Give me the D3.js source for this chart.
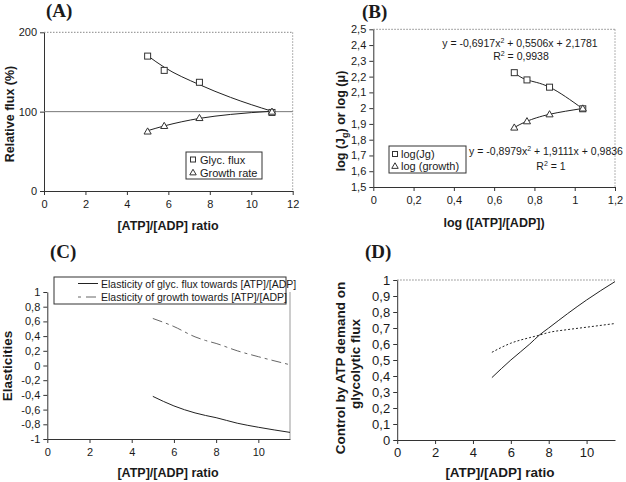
<!DOCTYPE html>
<meta charset="utf-8">
<head>
    <title>ATP/ADP flux panels</title>
    <style>
        body { margin: 0; background: #fff; }
        text { font-family: "Liberation Sans", Arial, sans-serif; fill: #1a1a1a; }
        .ptitle { font-family: "Liberation Serif", "Times New Roman", serif; font-weight: bold; font-size: 19px; }
        .atitle { font-weight: bold; font-size: 12.5px; }
        .domain, .tick line { stroke: #333; }
    </style>
</head>

<body>
    <script src="https://cdn.jsdelivr.net/npm/d3@7"></script>
    <script>
        // ---- data ----
        // (A) relative flux vs ratio
        var ratioPts = [5, 5.8, 7.5, 11];
        var glycFlux = [170, 152, 137, 99];
        var growthRate = [75, 82, 92, 100];
        // trendlines in (A)
        var trendX = [5, 5.8, 7.5, 9, 11];
        var glycTrend = [170.5, 156, 134, 118, 100.5];
        var growthTrend = [76, 82, 91.5, 96.5, 100.5];

        // (B) log-log
        var logRatio = [0.70, 0.763, 0.875, 1.04];
        var logJg = [2.225, 2.179, 2.133, 1.996];
        var logGrowth = [1.877, 1.917, 1.961, 1.998];

        // (C) elasticities, (D) control coefficients
        var curveX = [5, 6, 7, 7.5, 8, 9, 10, 11.5];
        var elastGlyc = [-0.42, -0.55, -0.645, -0.68, -0.71, -0.785, -0.84, -0.91];
        var elastGrowth = [0.64, 0.53, 0.39, 0.34, 0.30, 0.20, 0.12, 0.01];
        var ctrlSolid = [0.39, 0.50, 0.60, 0.655, 0.70, 0.79, 0.875, 0.99];
        var ctrlDotted = [0.548, 0.605, 0.64, 0.655, 0.672, 0.69, 0.705, 0.728];

        var svg = d3.select("body").append("svg")
            .attr("width", 626).attr("height", 482);

        function fmt(v) {
            return String(+v.toFixed(2)).replace(".", ",");
        }

        // builds axes + frame for one panel and returns the scales
        function panel(o) {
            var x = d3.scaleLinear().domain(o.xd).range([o.x0, o.x1]);
            var y = d3.scaleLinear().domain(o.yd).range([o.y0, o.y1]);
            var g = svg.append("g");

            // frame (light dotted top / right)
            if (o.top) {
                g.append("line").attr("x1", o.x0).attr("x2", o.x1).attr("y1", o.y1).attr("y2", o.y1)
                    .attr("stroke", "#888").attr("stroke-dasharray", "1.5,1.5");
            }
            if (o.right) {
                g.append("line").attr("x1", o.x1).attr("x2", o.x1).attr("y1", o.y1).attr("y2", o.y0)
                    .attr("stroke", "#999").attr("stroke-dasharray", o.rightDash || null);
            }

            g.append("g").attr("transform", "translate(0," + o.y0 + ")")
                .call(d3.axisBottom(x).tickValues(o.xt).tickFormat(fmt).tickSize(4).tickSizeOuter(0))
                .call(function (a) {
                    a.selectAll("text").attr("dy", null).attr("y", 17)
                        .style("font-size", o.fs + "px").style("font-family", "Liberation Sans, Arial");
                });
            g.append("g").attr("transform", "translate(" + o.x0 + ",0)")
                .call(d3.axisLeft(y).tickValues(o.yt).tickFormat(fmt).tickSize(4).tickSizeOuter(0))
                .call(function (a) {
                    a.selectAll("text").attr("x", -7)
                        .style("font-size", o.fs + "px").style("font-family", "Liberation Sans, Arial");
                });
            return { x: x, y: y, g: g };
        }

        function curve(p, xs, ys, dash, color, kind) {
            var line = d3.line()
                .x(function (d, i) { return p.x(xs[i]); })
                .y(function (d) { return p.y(d); })
                .curve(kind || d3.curveMonotoneX);
            p.g.append("path").datum(ys)
                .attr("d", line).attr("fill", "none")
                .attr("stroke", color || "#222").attr("stroke-width", 1)
                .attr("stroke-dasharray", dash || null);
        }

        function squares(p, xs, ys) {
            p.g.selectAll(null).data(ys).enter().append("rect")
                .attr("x", function (d, i) { return p.x(xs[i]) - 3; })
                .attr("y", function (d) { return p.y(d) - 3; })
                .attr("width", 6).attr("height", 6)
                .attr("fill", "#fff").attr("stroke", "#333");
        }

        var tri = d3.symbol().type(d3.symbolTriangle).size(22);
        function triangles(p, xs, ys) {
            p.g.selectAll(null).data(ys).enter().append("path")
                .attr("d", tri)
                .attr("transform", function (d, i) { return "translate(" + p.x(xs[i]) + "," + (p.y(d) + 0.5) + ")"; })
                .attr("fill", "#fff").attr("stroke", "#333");
        }

        function titleText(x, y, t, cls, rot) {
            var tx = svg.append("text").attr("class", cls).attr("text-anchor", "middle")
                .attr("transform", "translate(" + x + "," + y + ")" + (rot ? " rotate(-90)" : ""));
            tx.text(t);
            return tx;
        }

        // ---------- (A) ----------
        var pA = panel({ xd: [0, 12], yd: [0, 200], x0: 44, x1: 292.7, y0: 191, y1: 32.3,
            xt: d3.range(0, 13, 2), yt: [0, 100, 200], fs: 11, top: true, right: true, rightDash: "1.5,1.5" });
        pA.g.append("line").attr("x1", pA.x(0)).attr("x2", pA.x(12)).attr("y1", pA.y(100)).attr("y2", pA.y(100))
            .attr("stroke", "#777");
        curve(pA, trendX, glycTrend);
        curve(pA, trendX, growthTrend);
        squares(pA, ratioPts, glycFlux);
        triangles(pA, ratioPts, growthRate);
        var legA = svg.append("g").attr("transform", "translate(186,152)");
        legA.append("rect").attr("width", 76).attr("height", 27).attr("fill", "#fff").attr("stroke", "#333");
        legA.append("rect").attr("x", 4.5).attr("y", 5).attr("width", 5).attr("height", 5).attr("fill", "none").attr("stroke", "#333");
        legA.append("path").attr("d", d3.symbol().type(d3.symbolTriangle).size(18)).attr("transform", "translate(7,21)")
            .attr("fill", "none").attr("stroke", "#333");
        legA.append("text").attr("x", 14).attr("y", 11.5).style("font-size", "11px").text("Glyc. flux");
        legA.append("text").attr("x", 14).attr("y", 24.5).style("font-size", "11px").text("Growth rate");
        svg.append("text").attr("class", "ptitle").attr("x", 46).attr("y", 17).text("(A)");
        titleText(168, 230, "[ATP]/[ADP] ratio", "atitle");
        titleText(14, 114, "Relative flux (%)", "atitle", true);

        // ---------- (B) ----------
        var pB = panel({ xd: [0, 1.2], yd: [1.5, 2.5], x0: 373.3, x1: 615, y0: 187, y1: 29.3,
            xt: d3.range(0, 1.21, 0.2), yt: d3.range(1.5, 2.51, 0.1), fs: 11, top: true, right: true, rightDash: "1.5,1.5" });
        curve(pB, logRatio, logJg, null, "#222", d3.curveNatural);
        curve(pB, logRatio, logGrowth, null, "#222", d3.curveNatural);
        squares(pB, logRatio, logJg);
        triangles(pB, logRatio, logGrowth);
        var legB = svg.append("g").attr("transform", "translate(389,146)");
        legB.append("rect").attr("width", 77).attr("height", 27).attr("fill", "#fff").attr("stroke", "#333");
        legB.append("rect").attr("x", 3.5).attr("y", 5.5).attr("width", 5).attr("height", 5).attr("fill", "none").attr("stroke", "#333");
        legB.append("path").attr("d", d3.symbol().type(d3.symbolTriangle).size(18)).attr("transform", "translate(6,20.5)")
            .attr("fill", "none").attr("stroke", "#333");
        legB.append("text").attr("x", 12).attr("y", 12).style("font-size", "11px").text("log(Jg)");
        legB.append("text").attr("x", 12).attr("y", 24).style("font-size", "11px").text("log (growth)");
        var eq1 = svg.append("text").attr("x", 520).attr("y", 47).attr("text-anchor", "middle").style("font-size", "10.5px");
        eq1.append("tspan").text("y = -0,6917x");
        eq1.append("tspan").attr("dy", -4).style("font-size", "7px").text("2");
        eq1.append("tspan").attr("dy", 4).text(" + 0,5506x + 2,1781");
        var r1 = svg.append("text").attr("x", 521).attr("y", 60).attr("text-anchor", "middle").style("font-size", "10.5px");
        r1.append("tspan").text("R");
        r1.append("tspan").attr("dy", -4).style("font-size", "7px").text("2");
        r1.append("tspan").attr("dy", 4).text(" = 0,9938");
        var eq2 = svg.append("text").attr("x", 546).attr("y", 155).attr("text-anchor", "middle").style("font-size", "10.5px");
        eq2.append("tspan").text("y = -0,8979x");
        eq2.append("tspan").attr("dy", -4).style("font-size", "7px").text("2");
        eq2.append("tspan").attr("dy", 4).text(" + 1,9111x + 0,9836");
        var r2 = svg.append("text").attr("x", 551).attr("y", 170).attr("text-anchor", "middle").style("font-size", "10.5px");
        r2.append("tspan").text("R");
        r2.append("tspan").attr("dy", -4).style("font-size", "7px").text("2");
        r2.append("tspan").attr("dy", 4).text(" = 1");
        svg.append("text").attr("class", "ptitle").attr("x", 362).attr("y", 18).text("(B)");
        titleText(494, 227, "log ([ATP]/[ADP])", "atitle");
        var yb = svg.append("text").attr("class", "atitle").attr("text-anchor", "middle")
            .attr("transform", "translate(345,121) rotate(-90)");
        yb.append("tspan").text("log (J");
        yb.append("tspan").attr("dy", 3).style("font-size", "9px").text("g");
        yb.append("tspan").attr("dy", -3).text(") or log (\u03bc)");

        // ---------- (C) ----------
        var pC = panel({ xd: [0, 11.5], yd: [-1, 1], x0: 47.3, x1: 290, y0: 439, y1: 292,
            xt: d3.range(0, 11, 2), yt: d3.range(-1, 1.01, 0.2), fs: 11, top: false, right: true });
        curve(pC, curveX, elastGlyc, null, "#222");
        curve(pC, curveX, elastGrowth, "10,4,3,4", "#666");
        var legC = svg.append("g").attr("transform", "translate(54,277)");
        legC.append("rect").attr("width", 232).attr("height", 27).attr("fill", "#fff").attr("stroke", "#333");
        legC.append("line").attr("x1", 24).attr("x2", 44).attr("y1", 6.5).attr("y2", 6.5).attr("stroke", "#222");
        legC.append("line").attr("x1", 24).attr("x2", 44).attr("y1", 20).attr("y2", 20).attr("stroke", "#666")
            .attr("stroke-dasharray", "3,5,10");
        legC.append("text").attr("x", 47).attr("y", 10.5).style("font-size", "10.5px").text("Elasticity of glyc. flux towards [ATP]/[ADP]");
        legC.append("text").attr("x", 47).attr("y", 24).style("font-size", "10.5px").text("Elasticity of growth towards [ATP]/[ADP]");
        svg.append("text").attr("class", "ptitle").attr("x", 50).attr("y", 258).text("(C)");
        titleText(168, 477, "[ATP]/[ADP] ratio", "atitle");
        titleText(12, 366, "Elasticities", "atitle", true).style("font-size", "13.5px");

        // ---------- (D) ----------
        var pD = panel({ xd: [0, 11.5], yd: [0, 1], x0: 397.2, x1: 615, y0: 440, y1: 280,
            xt: d3.range(0, 11, 2), yt: d3.range(0, 1.01, 0.1), fs: 13, top: true, right: false });
        curve(pD, curveX, ctrlSolid, null, "#222");
        curve(pD, curveX, ctrlDotted, "2,2", "#222");
        svg.append("text").attr("class", "ptitle").attr("x", 365).attr("y", 258).text("(D)");
        titleText(500, 477, "[ATP]/[ADP] ratio", "atitle").style("font-size", "13.5px");
        titleText(345, 368, "Control by ATP demand on", "atitle", true).style("font-size", "13.5px");
        titleText(360, 364, "glycolytic flux", "atitle", true).style("font-size", "13.5px");
    </script>
</body>

</html>
